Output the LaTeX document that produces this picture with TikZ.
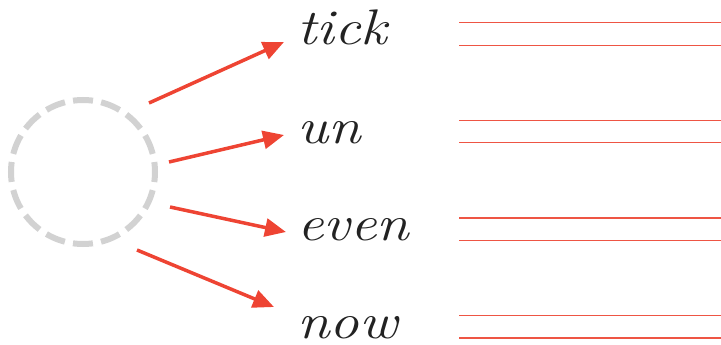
\documentclass[tikz,border=0pt]{standalone}
\usetikzlibrary{arrows.meta}

\definecolor{ringgray}{HTML}{D2D2D2}
\definecolor{arrowred}{HTML}{EE4433}
\definecolor{rulered}{HTML}{EE5544}
\definecolor{inkgray}{HTML}{222222}

\newcommand{\wide}[1]{\scalebox{1.18}[1]{#1}}

\tikzset{
  ring/.style={draw=ringgray, line width=6pt, dash pattern=on 20pt off 8.27pt, dash phase=10pt},
  pointer/.style={draw=arrowred, line width=3.5pt, -{Triangle[length=21pt,width=18pt]}},
  word/.style={anchor=base west, inner sep=0pt, text=inkgray, font=\fontsize{50}{50}\selectfont\itshape},
  guide/.style={draw=rulered, line width=1.3pt}
}

\begin{document}
\begin{tikzpicture}[x=1pt,y=-1pt]
\useasboundingbox (0,0) rectangle (721,345);
\node[circle, minimum size=144pt, inner sep=0pt](ball) at (83,172){};
\draw[ring] (ball.center) circle[radius=72pt];
\node[word](tick) at (297,45){\wide{tick}};
\node[word](un) at (297,143){\wide{un}};
\node[word](even) at (297,240){\wide{even}};
\node[word](now) at (297,338){\wide{now}};
\coordinate (s1) at (149,103);
\coordinate (s2) at (169,162);
\coordinate (s3) at (170,207);
\coordinate (s4) at (137,250);
\coordinate (e1) at (284,42);
\coordinate (e2) at (284,135);
\coordinate (e3) at (286,232);
\coordinate (e4) at (274,307);
\draw[pointer](s1)--(e1);
\draw[pointer](s2)--(e2);
\draw[pointer](s3)--(e3);
\draw[pointer](s4)--(e4);
\foreach \y in {0,1,2,3} {
  \draw[guide] (459,22.7+97.6*\y) -- (721,22.7+97.6*\y);
  \draw[guide] (459,45.2+97.6*\y) -- (721,45.2+97.6*\y);
}
\end{tikzpicture}
\end{document}
